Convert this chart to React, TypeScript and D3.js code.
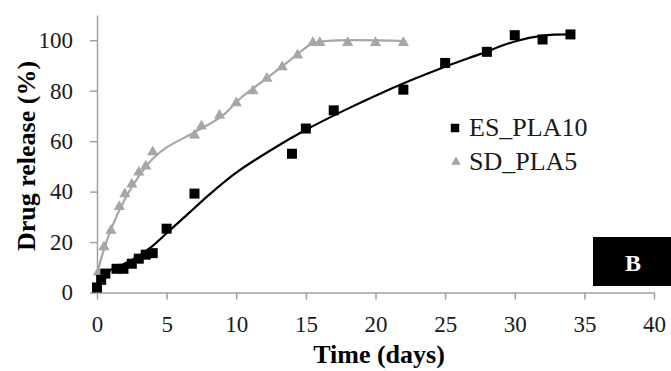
import * as d3 from 'd3';
import { useEffect, useRef } from 'react';

// ES_PLA10 (black squares)
const esDays = [0, 0.3, 0.6, 1.4, 1.9, 2.5, 3.0, 3.5, 4.0, 5, 7, 14, 15, 17, 22, 25, 28, 30, 32, 34];
const esRelease = [2, 5, 7.5, 9.4, 9.4, 11.4, 13.4, 15, 15.6, 25.3, 39.2, 55, 65, 72.2, 80.4, 91, 95.4, 102, 100.3, 102.3];

// SD_PLA5 (grey triangles)
const sdDays = [0, 0.1, 0.5, 1, 1.6, 2, 2.5, 3, 3.5, 4, 7, 7.5, 8.8, 10, 11.2, 12.2, 13.3, 14.4, 15.5, 16, 18, 20, 22];
const sdRelease = [1, 8, 18, 24.6, 34, 39, 42.9, 47.7, 50, 55.7, 62.3, 65.9, 70.2, 75.1, 79.9, 84.8, 89.4, 94, 99, 99, 99, 99, 99];

// trend lines
const esFitDays = [0, 0.4, 1, 2, 3, 4, 5, 6, 7, 8, 10, 12.5, 15, 17.5, 20, 22.5, 25, 27.5, 30, 32, 34];
const esFitRelease = [0, 6.5, 9, 11.5, 14.5, 18.5, 23.5, 28.5, 33.5, 38.5, 47.5, 56.5, 64.5, 71.5, 78, 84, 89.5, 94.5, 99.5, 101.8, 102.3];
const sdFitDays = [0, 0.1, 0.5, 1, 2, 3, 4, 5, 7, 9, 10.3, 12.2, 13.5, 14.4, 15.4, 16.5, 22.2];
const sdFitRelease = [0, 9, 17, 25, 37, 46, 53, 57.5, 63.5, 70, 77, 85, 90.5, 94.5, 98.5, 99.7, 99.7];

const xTicks = [0, 5, 10, 15, 20, 25, 30, 35, 40];
const yTicks = [0, 20, 40, 60, 80, 100];
const seriesNames = ['ES_PLA10', 'SD_PLA5'];

const W = 671;
const H = 371;
const FONT = '"Liberation Serif", "Times New Roman", serif';
const GREY = '#a6a6a6';
const AXIS = '#a0a0a0';

const App = () => {
  const ref = useRef<SVGSVGElement>(null);

  useEffect(() => {
    const svg = d3.select(ref.current);
    svg.selectAll('*').remove();

    svg.append('rect').attr('width', W).attr('height', H).attr('fill', '#fff');

    const x = d3.scaleLinear().domain([0, 40]).range([97, 654]);
    const y = d3.scaleLinear().domain([0, 110]).range([292.5, 15]);

    // Axes
    const xAxis = svg.append('g')
      .attr('transform', `translate(0,${y(0)})`)
      .call(d3.axisBottom(x).tickValues(xTicks).tickSize(7).tickSizeOuter(0).tickPadding(16));
    const yAxis = svg.append('g')
      .attr('transform', `translate(${x(0)},0)`)
      .call(d3.axisLeft(y).tickValues(yTicks).tickSize(7).tickSizeOuter(0).tickPadding(17));

    [xAxis, yAxis].forEach(g => {
      g.select('.domain').attr('stroke', AXIS).attr('stroke-width', 1.5);
      g.selectAll('.tick line').attr('stroke', AXIS).attr('stroke-width', 1.5);
      g.selectAll('.tick text')
        .attr('fill', '#1a1a1a')
        .style('font-family', FONT)
        .style('font-size', '23px');
    });

    // Trend lines
    const line = d3.line<[number, number]>()
      .x(d => x(d[0]))
      .y(d => y(d[1]))
      .curve(d3.curveCatmullRom);

    svg.append('path')
      .datum(sdFitDays.map((d, i) => [d, sdFitRelease[i]] as [number, number]))
      .attr('fill', 'none')
      .attr('stroke', GREY)
      .attr('stroke-width', 2.2)
      .attr('d', line);

    svg.append('path')
      .datum(esFitDays.map((d, i) => [d, esFitRelease[i]] as [number, number]))
      .attr('fill', 'none')
      .attr('stroke', '#000')
      .attr('stroke-width', 2.2)
      .attr('d', line);

    // Markers
    const tri = d3.symbol().type(d3.symbolTriangle).size(55);
    const sq = d3.symbol().type(d3.symbolSquare).size(100);

    svg.append('g').selectAll('path')
      .data(sdDays.map((d, i) => [d, sdRelease[i]]))
      .enter()
      .append('path')
      .attr('transform', d => `translate(${x(d[0])},${y(d[1])})`)
      .attr('d', tri)
      .attr('fill', GREY);

    svg.append('g').selectAll('path')
      .data(esDays.map((d, i) => [d, esRelease[i]]))
      .enter()
      .append('path')
      .attr('transform', d => `translate(${x(d[0])},${y(d[1])})`)
      .attr('d', sq)
      .attr('fill', '#000');

    // Legend
    const legend = svg.append('g');
    legend.append('path')
      .attr('transform', 'translate(455,128)')
      .attr('d', d3.symbol().type(d3.symbolSquare).size(72))
      .attr('fill', '#000');
    legend.append('path')
      .attr('transform', 'translate(456,162)')
      .attr('d', d3.symbol().type(d3.symbolTriangle).size(40))
      .attr('fill', GREY);
    seriesNames.forEach((name, i) => {
      legend.append('text')
        .attr('x', 469)
        .attr('y', 136 + i * 34)
        .attr('fill', '#1a1a1a')
        .style('font-family', FONT)
        .style('font-size', '26px')
        .text(name);
    });

    // Panel label
    svg.append('rect')
      .attr('x', 593).attr('y', 237)
      .attr('width', 78).attr('height', 49)
      .attr('fill', '#000');
    svg.append('text')
      .attr('x', 633).attr('y', 271)
      .attr('text-anchor', 'middle')
      .attr('fill', '#fff')
      .style('font-family', FONT)
      .style('font-size', '24px')
      .style('font-weight', 'bold')
      .text('B');

    // Axis titles
    svg.append('text')
      .attr('x', 379).attr('y', 363)
      .attr('text-anchor', 'middle')
      .attr('fill', '#000')
      .style('font-family', FONT)
      .style('font-size', '26px')
      .style('font-weight', 'bold')
      .text('Time (days)');
    svg.append('text')
      .attr('transform', 'translate(35,156) rotate(-90)')
      .attr('text-anchor', 'middle')
      .attr('fill', '#000')
      .style('font-family', FONT)
      .style('font-size', '26px')
      .style('font-weight', 'bold')
      .text('Drug release (%)');
  }, []);

  return (
    <svg
      ref={ref}
      width={W}
      height={H}
      style={{ position: 'absolute', left: 0, top: 0, display: 'block' }}
    />
  );
};

export default App;
